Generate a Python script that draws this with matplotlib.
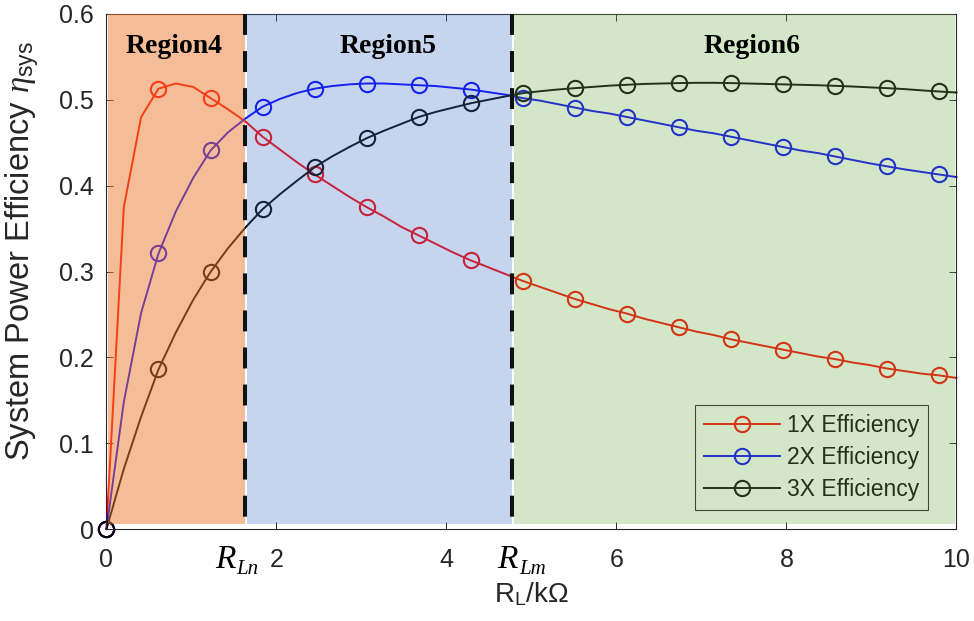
import numpy as np
import matplotlib
matplotlib.use("Agg")
import matplotlib.pyplot as plt
from matplotlib.transforms import blended_transform_factory

plt.rcParams['font.family'] = ['Liberation Sans', 'DejaVu Sans']
plt.rcParams['mathtext.fontset'] = 'custom'
plt.rcParams['mathtext.rm'] = 'Liberation Sans'
plt.rcParams['mathtext.it'] = 'Liberation Serif:italic'
plt.rcParams['mathtext.bf'] = 'Liberation Sans:bold'

# load resistance grid (kOhm), 50 samples from 0 to 10
r_load = np.linspace(0, 10, 50)

eff_1x = [0.000, 0.375, 0.480, 0.513, 0.519, 0.515, 0.502, 0.489, 0.475, 0.457,
          0.442, 0.427, 0.413, 0.400, 0.387, 0.375, 0.364, 0.352, 0.342, 0.332,
          0.322, 0.313, 0.305, 0.297, 0.289, 0.282, 0.275, 0.268, 0.262, 0.256,
          0.251, 0.245, 0.240, 0.235, 0.230, 0.226, 0.221, 0.217, 0.213, 0.209,
          0.205, 0.201, 0.198, 0.194, 0.191, 0.187, 0.184, 0.181, 0.179, 0.176]

eff_2x = [0.000, 0.148, 0.252, 0.321, 0.370, 0.409, 0.441, 0.462, 0.478, 0.492,
          0.501, 0.508, 0.513, 0.516, 0.518, 0.519, 0.519, 0.518, 0.517, 0.516,
          0.514, 0.512, 0.509, 0.506, 0.502, 0.499, 0.495, 0.491, 0.487, 0.484,
          0.480, 0.476, 0.472, 0.468, 0.464, 0.461, 0.457, 0.453, 0.449, 0.445,
          0.441, 0.438, 0.434, 0.430, 0.426, 0.4225, 0.419, 0.416, 0.413, 0.410]

eff_3x = [0.000, 0.070, 0.131, 0.186, 0.229, 0.267, 0.2995, 0.327, 0.351, 0.3726,
          0.390, 0.406, 0.4215, 0.434, 0.445, 0.4553, 0.464, 0.472, 0.480, 0.486,
          0.491, 0.496, 0.500, 0.504, 0.5078, 0.510, 0.512, 0.5136, 0.515, 0.5165,
          0.5175, 0.5185, 0.519, 0.5195, 0.5198, 0.5198, 0.5195, 0.519, 0.5185, 0.518,
          0.5175, 0.517, 0.5163, 0.5155, 0.5145, 0.5136, 0.5125, 0.511, 0.5097, 0.5085]

series_labels = ['1X Efficiency', '2X Efficiency', '3X Efficiency']
region_names = ['Region4', 'Region5', 'Region6']
r_ln = 1.625   # boundary between region 4 and 5
r_lm = 4.77    # boundary between region 5 and 6

fig = plt.figure(figsize=(9.74, 6.21), dpi=100)
ax = fig.add_axes([0.1093, 0.1481, 0.8727, 0.8294])

style = dict(lw=1.4, marker='o', ms=11, mfc='none', mew=1.5, markevery=3, clip_on=False)
ax.plot(r_load, eff_1x, color='red', label=series_labels[0], **style)
ax.plot(r_load, eff_2x, color='blue', label=series_labels[1], **style)
ax.plot(r_load, eff_3x, color='black', label=series_labels[2], **style)

leg = ax.legend(loc='lower right', bbox_to_anchor=(0.9665, 0.0369), borderaxespad=0,
                fontsize=16.5, fancybox=False, framealpha=1, edgecolor='0.15',
                handlelength=3.3, handletextpad=0.3, labelspacing=0.38, borderpad=0.4)
leg.get_frame().set_linewidth(0.8)
leg.set_zorder(5)

# translucent region shading laid over everything
ax.axvspan(0.015, r_ln + 0.01, ymin=0.0097, ymax=1, color='#ED7D31', alpha=0.5, lw=0, zorder=6)
ax.axvspan(r_ln + 0.03, r_lm + 0.005, ymin=0.0097, ymax=1, color='#4472C4', alpha=0.3, lw=0, zorder=6)
ax.axvspan(r_lm + 0.025, 9.985, ymin=0.0097, ymax=1, color='#70AD47', alpha=0.3, lw=0, zorder=6)

for xb in [r_ln, r_lm]:
    ax.plot([xb, xb], [0.6, 0], color='#111111', lw=2.9, dashes=(5.2, 4.0), zorder=7,
            dash_capstyle='butt')

for name, xc in zip(region_names, [0.79, 3.31, 7.59]):
    ax.text(xc, 0.562, name, ha='center', va='center', fontsize=20, fontweight='bold',
            family='Liberation Serif', color='black', zorder=8)

ax.set_xlim(0, 10)
ax.set_ylim(0, 0.6)
ax.set_xticks([0, 2, 4, 6, 8, 10])
ax.set_yticks([0, 0.1, 0.2, 0.3, 0.4, 0.5, 0.6])
ax.set_yticklabels(['0', '0.1', '0.2', '0.3', '0.4', '0.5', '0.6'])
ax.tick_params(direction='in', top=True, right=True, length=5, width=0.7,
               color='0.15', labelcolor='#262626', labelsize=18)
ax.tick_params(axis='x', pad=13.5)
ax.tick_params(axis='y', pad=9)
for sp in ax.spines.values():
    sp.set_color('0.15')
    sp.set_linewidth(0.8)

# R_Ln and R_Lm markers under the boundary lines
trans = blended_transform_factory(ax.transData, ax.transAxes)
for xc, sub in [(1.40, 'Ln'), (4.72, 'Lm')]:
    ax.text(xc, -0.0757, 'R', transform=trans, ha='center', va='baseline',
            fontsize=24, style='italic', family='Liberation Serif', color='black')
    ax.annotate(sub, xy=(xc, -0.0757), xycoords=trans, xytext=(8, -4.5),
                textcoords='offset points', ha='left', va='baseline',
                fontsize=15, style='italic', family='Liberation Serif', color='black')

ax.set_xlabel(r'R$_\mathrm{L}$/k$\Omega$', fontsize=20, color='#262626', labelpad=6)
ax.set_ylabel(r'System Power Efficiency $\eta_\mathrm{sys}$', fontsize=23.5,
              color='#262626')
ax.yaxis.set_label_coords(-0.077, 0.54)

fig.savefig('out.png', dpi=100)
